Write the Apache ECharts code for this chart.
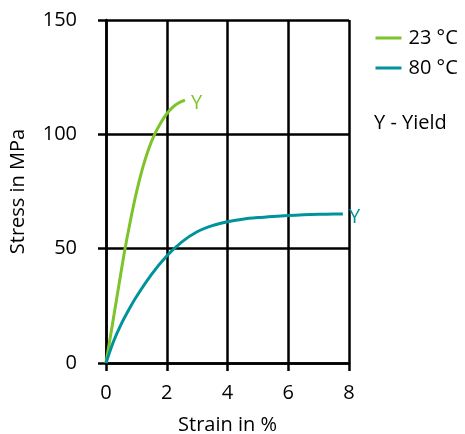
<!DOCTYPE html>
<html>
<head>
<meta charset="utf-8">
<script src="https://cdn.jsdelivr.net/npm/echarts@6/dist/echarts.min.js"></script>
<style>html,body{margin:0;padding:0;background:#fff;}#c{width:465px;height:434px;}</style>
</head>
<body>
<div id="c"></div>
<script>
var seriesNames = ['23 °C', '80 °C'];
var seriesColors = ['#7dc42a', '#00939b'];
var strain23 = [0, 0.2, 0.4, 0.6, 0.8, 1.0, 1.2, 1.4, 1.6, 1.8, 2.0, 2.2, 2.4, 2.6];
var stress23 = [0, 16, 32, 48, 62, 74.5, 85, 93.5, 100, 105, 109, 111.9, 113.8, 115];
var strain80 = [0, 0.25, 0.5, 0.75, 1.0, 1.5, 2.0, 2.5, 3.0, 3.5, 4.0, 4.5, 5.0, 5.5, 6.0, 6.5, 7.0, 7.5, 7.8];
var stress80 = [0, 9.5, 17, 23.3, 29, 38.8, 46.8, 53, 57.4, 60.1, 61.8, 62.9, 63.6, 64.1, 64.5, 64.8, 65, 65.15, 65.2];
var xTicks = [0, 2, 4, 6, 8];
var yTicks = [0, 50, 100, 150];
var yieldLabel = 'Y';
var noteText = 'Y - Yield';

function pairs(xs, ys) { return xs.map(function (x, i) { return [x, ys[i]]; }); }

var font = '"Open Sans", "Noto Sans", sans-serif';
var chart = echarts.init(document.getElementById('c'));
var axisCommon = {
  axisLine: { show: true, lineStyle: { color: '#000', width: 2.5 } },
  axisTick: { show: true, inside: false, length: 8, lineStyle: { color: '#000', width: 2.5 } },
  splitLine: { show: true, lineStyle: { color: '#000', width: 2.5 } },
  nameTextStyle: { color: '#000', fontSize: 20, fontFamily: font }
};
chart.setOption({
  animation: false,
  grid: { left: 106, width: 243, top: 20, height: 343, containLabel: false, outerBoundsMode: 'none' },
  xAxis: Object.assign({
    type: 'value', min: xTicks[0], max: xTicks[xTicks.length - 1], interval: 2,
    name: 'Strain in %', nameLocation: 'middle', nameGap: 52,
    axisLabel: { color: '#000', fontSize: 20, fontFamily: font, margin: 20 }
  }, axisCommon),
  yAxis: Object.assign({
    type: 'value', min: yTicks[0], max: yTicks[yTicks.length - 1], interval: 50,
    name: 'Stress in MPa', nameLocation: 'middle', nameGap: 78,
    axisLabel: { color: '#000', fontSize: 20, fontFamily: font, margin: 29 }
  }, axisCommon),
  legend: {
    orient: 'vertical', left: 369, top: 23, itemWidth: 26, itemHeight: 20, itemGap: 10,
    textStyle: { color: '#000', fontSize: 20, fontFamily: font, padding: [0, 0, 0, 2] },
    itemStyle: { opacity: 0 },
    lineStyle: { width: 3 },
    data: seriesNames
  },
  graphic: [{
    type: 'text', left: 374, top: 113,
    style: { text: noteText, fill: '#000', fontSize: 20, fontFamily: font }
  }],
  series: [
    {
      name: seriesNames[0], type: 'line', smooth: 0.3, symbol: 'none',
      data: pairs(strain23, stress23),
      lineStyle: { color: seriesColors[0], width: 3 }, itemStyle: { color: seriesColors[0] },
      endLabel: { show: true, formatter: yieldLabel, color: seriesColors[0], fontSize: 20, fontFamily: font, distance: 5, offset: [1, 3] }
    },
    {
      name: seriesNames[1], type: 'line', smooth: 0.3, symbol: 'none',
      data: pairs(strain80, stress80),
      lineStyle: { color: seriesColors[1], width: 3 }, itemStyle: { color: seriesColors[1] },
      endLabel: { show: true, formatter: yieldLabel, color: seriesColors[1], fontSize: 20, fontFamily: font, distance: 5, offset: [1, 3] }
    }
  ]
});
</script>
</body>
</html>
